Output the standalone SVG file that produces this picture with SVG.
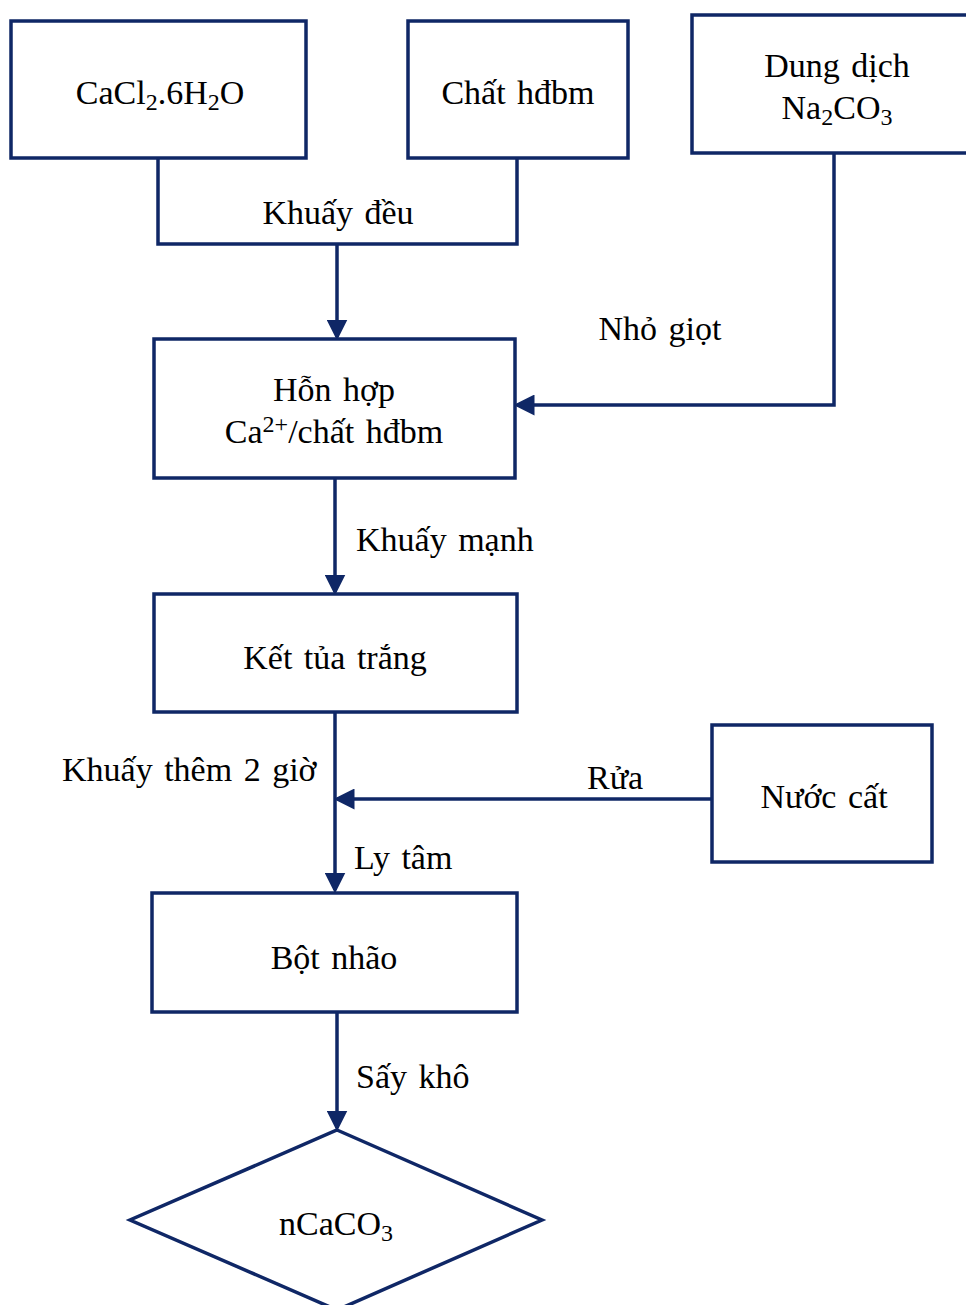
<svg xmlns="http://www.w3.org/2000/svg" width="966" height="1305" viewBox="0 0 966 1305">
<defs>
<style>
.box{fill:#fff;stroke:#0f2766;stroke-width:3.5}
.ln{fill:none;stroke:#0f2766;stroke-width:3.5}
.t{font-family:"Liberation Serif","Times New Roman",serif;font-size:34px;word-spacing:3px;fill:#000}
.c{text-anchor:middle}
</style>
<marker id="ah" markerWidth="6" markerHeight="6" refX="5" refY="3" orient="auto" markerUnits="strokeWidth">
<path d="M0,0 L6,3 L0,6 z" fill="#0f2766"/>
</marker>
</defs>
<rect width="966" height="1305" fill="#fff"/>
<g id="connectors">
<polyline class="ln" points="158,158 158,244 517,244 517,158"/>
<line class="ln" x1="337" y1="244" x2="337" y2="337" marker-end="url(#ah)"/>
<polyline class="ln" points="834,153 834,405 517,405" marker-end="url(#ah)"/>
<line class="ln" x1="335" y1="478" x2="335" y2="592" marker-end="url(#ah)"/>
<line class="ln" x1="335" y1="712" x2="335" y2="890" marker-end="url(#ah)"/>
<line class="ln" x1="712" y1="799" x2="337" y2="799" marker-end="url(#ah)"/>
<line class="ln" x1="337" y1="1012" x2="337" y2="1128" marker-end="url(#ah)"/>
</g>
<g id="labels">
<text class="t c" x="338" y="224">Khuấy đều</text>
<text class="t c" x="660" y="340">Nhỏ giọt</text>
<text class="t" x="356" y="551">Khuấy mạnh</text>
<text class="t" x="62" y="781">Khuấy thêm 2 giờ</text>
<text class="t" x="587" y="789">Rửa</text>
<text class="t" x="354" y="869">Ly tâm</text>
<text class="t" x="356" y="1088">Sấy khô</text>
</g>
<g id="n1"><rect class="box" x="11" y="21" width="295" height="137"/>
<text class="t c" x="160" y="104">CaCl<tspan font-size="24" dy="6">2</tspan><tspan dy="-6">.6H</tspan><tspan font-size="24" dy="6">2</tspan><tspan dy="-6">O</tspan></text></g>
<g id="n2"><rect class="box" x="408" y="21" width="220" height="137"/>
<text class="t c" x="518" y="104">Chất hđbm</text></g>
<g id="n3"><rect class="box" x="692" y="15" width="280" height="138"/>
<text class="t c" x="837" y="77">Dung dịch</text>
<text class="t c" x="837" y="119">Na<tspan font-size="24" dy="6">2</tspan><tspan dy="-6">CO</tspan><tspan font-size="24" dy="6">3</tspan></text></g>
<g id="n4"><rect class="box" x="154" y="339" width="361" height="139"/>
<text class="t c" x="334" y="401">Hỗn hợp</text>
<text class="t c" x="334" y="443">Ca<tspan font-size="24" dy="-11">2+</tspan><tspan dy="11">/chất hđbm</tspan></text></g>
<g id="n5"><rect class="box" x="154" y="594" width="363" height="118"/>
<text class="t c" x="335" y="669">Kết tủa trắng</text></g>
<g id="n6"><rect class="box" x="712" y="725" width="220" height="137"/>
<text class="t c" x="824" y="808">Nước cất</text></g>
<g id="n7"><rect class="box" x="152" y="893" width="365" height="119"/>
<text class="t c" x="334" y="969">Bột nhão</text></g>
<g id="n8"><polygon class="box" points="337,1130 542,1220 337,1310 130,1220"/>
<text class="t c" x="336" y="1235">nCaCO<tspan font-size="24" dy="6">3</tspan></text></g>
</svg>
